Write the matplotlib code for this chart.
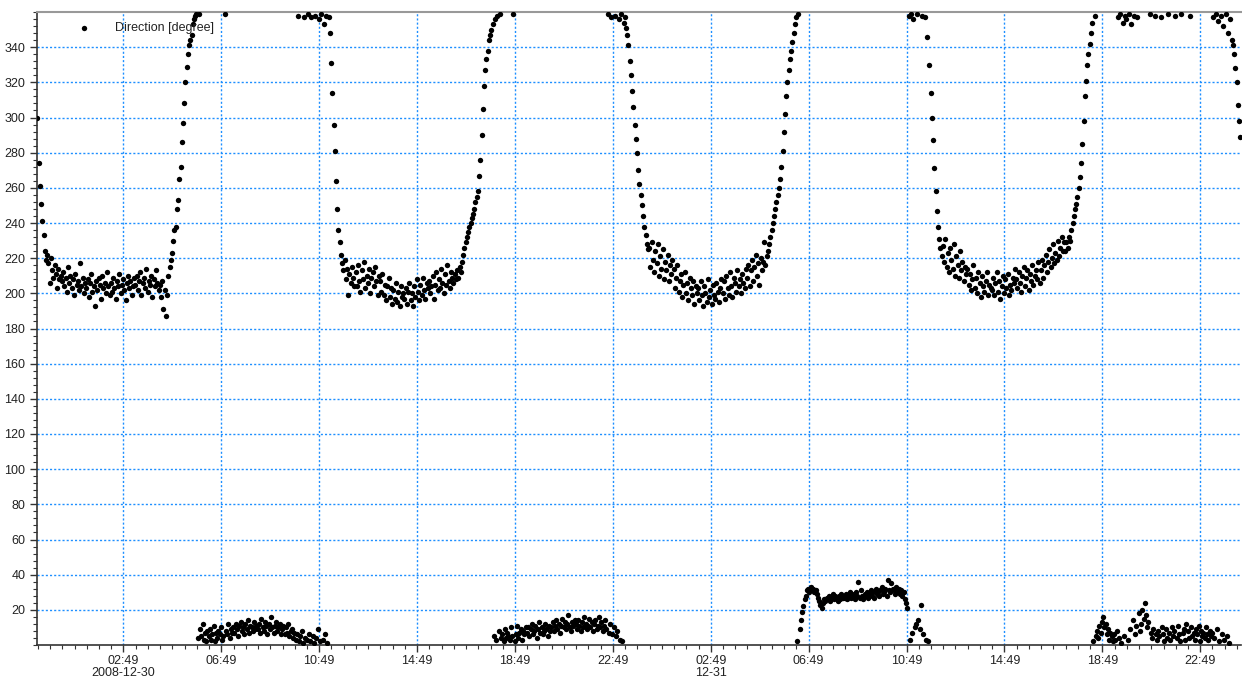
import matplotlib
matplotlib.use('Agg')
import matplotlib.pyplot as plt
import matplotlib.dates as mdates
from matplotlib.ticker import FixedLocator, FixedFormatter, MultipleLocator
import pandas as pd

plt.rcParams['font.family'] = ['Liberation Sans', 'DejaVu Sans']

# logger samples every 3 minutes, first one at 2008-12-29 23:18
start_time = '2008-12-29 23:18'
sample_step = '3min'

# one row = one hour (20 samples)
block_a = [
    300, 274, 261, 251, 241, 233, 224, 219, 222, 217, 206, 220, 213, 209, 216, 211, 203, 214, 208, 210,
    207, 212, 204, 209, 201, 215, 206, 210, 203, 208, 199, 211, 205, 207, 202, 217, 204, 209, 200, 206,
    203, 208, 198, 206, 211, 201, 204, 193, 207, 202, 209, 205, 197, 210, 203, 206, 200, 212, 204, 199,
    206, 201, 209, 203, 197, 207, 204, 211, 200, 205, 208, 202, 196, 206, 210, 203, 207, 199, 204, 209,
    205, 210, 202, 207, 212, 199, 206, 209, 203, 214, 201, 207, 205, 210, 198, 208, 204, 213, 206, 202,
    205, 198, 207, 191, 202, 187, 199, 210, 215, 219, 223, 230, 236, 238, 248, 253, 265, 272, 286, 297,
    308, 320, 329, 336, 341, 344, 347, 353, 356, 358, 359, 4, 359, 9, 5, 12, 3, 7, 2, 8,
    5, 9, 3, 6, 11, 2, 7, 4, 8, 6, 10, 3, 5, 359, 8, 6, 12, 4, 9, 7,
    10, 7, 12, 9, 5, 11, 13, 8, 10, 6, 12, 9, 14, 7, 11, 10, 8, 13, 9, 11,
    9, 12, 7, 15, 10, 8, 13, 11, 6, 12, 9, 16, 10, 7, 11, 13, 8, 10, 12, 6,
    9, 11, 6, 10, 7, 12, 5, 8, 9, 4, 7, 3, 6, 358, 2, 5, 8, 1, 357, 4,
    3, 359, 6, 2, 357, 5, 1, 358, 4, 9, 356, 2, 359, 3, 353, 6, 358, 1, 357, 348,
]
block_b = [
    331, 314, 296, 281, 264, 248, 236, 229, 222, 217, 213, 219, 208, 214, 199, 211, 206, 215, 209, 204,
    212, 204, 216, 207, 201, 213, 208, 218, 203, 210, 206, 214, 200, 209, 212, 204, 215, 207, 199, 210,
    207, 201, 211, 199, 205, 196, 204, 209, 198, 203, 194, 202, 197, 206, 195, 201, 193, 204, 198, 200,
    197, 203, 194, 201, 206, 196, 200, 193, 204, 198, 208, 201, 196, 205, 199, 209, 202, 197, 206, 203,
    207, 200, 204, 210, 197, 205, 212, 202, 208, 203, 214, 206, 200, 211, 205, 216, 207, 203, 212, 209,
    206, 211, 208, 213, 209, 215, 212, 218, 222, 226, 229, 232, 235, 238, 240, 243, 245, 248, 252, 255,
    258, 267, 276, 290, 305, 318, 327, 333, 338, 344, 347, 350, 353, 5, 356, 3, 358, 8, 359, 4,
    6, 2, 9, 4, 7, 5, 3, 10, 5, 359, 2, 6, 11, 4, 7, 9, 3, 8, 6, 10,
    7, 10, 5, 9, 12, 6, 8, 11, 4, 9, 13, 7, 10, 6, 8, 12, 9, 5, 11, 8,
    10, 13, 8, 11, 14, 9, 12, 7, 11, 15, 10, 13, 9, 12, 17, 10, 8, 13, 11, 14,
    12, 9, 14, 11, 8, 13, 10, 16, 12, 9, 11, 15, 10, 13, 8, 12, 14, 9, 11, 16,
    10, 13, 8, 11, 14, 9, 359, 7, 12, 357, 6, 10, 358, 5, 8, 356, 3, 359, 2, 354,
]
block_c = [
    357, 351, 347, 341, 332, 324, 315, 306, 296, 288, 280, 270, 262, 256, 250, 244, 238, 233, 228, 225,
    226, 215, 229, 219, 212, 224, 217, 228, 210, 221, 214, 225, 208, 218, 213, 222, 207, 216, 211, 219,
    214, 203, 209, 216, 201, 207, 211, 198, 205, 212, 200, 206, 196, 209, 203, 199, 207, 194, 204, 200,
    203, 196, 207, 199, 193, 204, 200, 195, 208, 198, 202, 194, 205, 199, 197, 206, 201, 195, 203, 208,
    200, 207, 197, 210, 203, 199, 212, 204, 198, 209, 206, 201, 213, 204, 208, 200, 211, 206, 203, 214,
    209, 216, 204, 213, 219, 207, 215, 222, 210, 217, 205, 220, 213, 218, 229, 216, 221, 224, 228, 232,
    236, 240, 244, 248, 252, 256, 260, 265, 272, 281, 292, 302, 312, 320, 327, 333, 338, 343, 348, 353,
    357, 2, 359, 9, 14, 19, 22, 26, 28, 31, 32, 30, 33, 31, 32, 30, 31, 29, 27, 25,
    23, 21, 24, 26, 25, 27, 26, 28, 25, 27, 29, 26, 28, 27, 25, 28, 26, 29, 27, 28,
    27, 29, 26, 28, 30, 27, 29, 28, 26, 30, 28, 36, 27, 31, 28, 26, 29, 28, 30, 27,
    29, 31, 28, 30, 27, 32, 29, 30, 28, 31, 33, 29, 30, 32, 28, 37, 31, 30, 35, 32,
    31, 29, 33, 30, 32, 29, 31, 28, 30, 26, 24, 21, 358, 3, 359, 7, 356, 10, 12, 359,
]
block_d = [
    14, 9, 23, 358, 6, 357, 3, 346, 2, 330, 314, 300, 287, 271, 258, 247, 238, 231, 226, 221,
    227, 218, 231, 215, 223, 212, 226, 219, 214, 228, 210, 221, 216, 209, 224, 213, 218, 207, 215, 211,
    214, 205, 211, 202, 208, 216, 203, 209, 200, 212, 206, 198, 210, 204, 201, 207, 212, 199, 205, 203,
    202, 209, 199, 206, 212, 201, 207, 197, 204, 210, 200, 208, 203, 211, 199, 205, 202, 209, 206, 214,
    208, 203, 212, 206, 201, 210, 215, 204, 209, 213, 202, 211, 207, 216, 205, 210, 213, 208, 218, 206,
    213, 219, 209, 216, 222, 212, 218, 225, 215, 220, 228, 217, 223, 219, 230, 221, 226, 232, 224, 229,
    224, 229, 226, 232, 230, 236, 240, 244, 248, 251, 255, 260, 266, 274, 285, 298, 312, 321, 330, 336,
    342, 348, 354, 2, 358, 5, 8, 4, 11, 7, 13, 16, 10, 12, 6, 9, 3, 7, 5, 2,
    6, 3, 8, 357, 4, 359, 1, 354, 5, 358, 356, 3, 359, 9, 353, 14, 358, 6, 11, 357,
    18, 8, 12, 20, 15, 24, 17, 10, 13, 359, 7, 4, 9, 358, 6, 3, 8, 5, 357, 10,
    6, 2, 9, 4, 359, 7, 3, 10, 5, 8, 358, 4, 11, 6, 2, 359, 7, 9, 3, 12,
    8, 4, 358, 10, 5, 7, 3, 9, 6, 11, 2, 8, 5, 7, 4, 10, 6, 3, 8, 5,
    7, 357, 4, 359, 9, 355, 2, 358, 6, 352, 3, 359, 5, 348, 1, 356, 344, 341, 336, 328,
    320, 307, 298, 289,
]

direction = block_a + block_b + block_c + block_d
times = pd.date_range(start_time, periods=len(direction), freq=sample_step)

# axis setup
x_start = pd.Timestamp('2008-12-29 23:17')
x_end = pd.Timestamp('2009-01-01 00:29')
major_times = pd.date_range('2008-12-30 02:49', periods=12, freq='4h')
major_labels = ['02:49\n2008-12-30', '06:49', '10:49', '14:49', '18:49', '22:49',
                '02:49\n12-31', '06:49', '10:49', '14:49', '18:49', '22:49']
minor_times = pd.date_range('2008-12-29 23:19', '2009-01-01 00:29', freq='30min')

fig = plt.figure(figsize=(12.42, 6.77), dpi=100)
ax = fig.add_axes([37 / 1242, 32 / 677, 1204 / 1242, 633 / 677])

ax.scatter(times, direction, s=15, color='black', linewidths=0, zorder=3,
           label='Direction [degree]')

ax.set_xlim(x_start, x_end)
ax.set_ylim(0, 360)

ax.xaxis.set_major_locator(FixedLocator(mdates.date2num(major_times)))
ax.xaxis.set_major_formatter(FixedFormatter(major_labels))
ax.xaxis.set_minor_locator(FixedLocator(mdates.date2num(minor_times)))
ax.yaxis.set_major_locator(FixedLocator(list(range(20, 341, 20))))
ax.yaxis.set_minor_locator(MultipleLocator(4))

ax.grid(True, which='major', color='#1e8fff', linestyle=(0, (1.5, 1.5)), linewidth=1.0)

ax.tick_params(which='major', length=5, width=1, color='#333333', labelsize=9,
               labelcolor='#222222', direction='out')
ax.tick_params(which='minor', length=3, width=0.8, color='#333333', direction='out')
ax.tick_params(axis='x', pad=2)
for lbl in ax.get_xticklabels():
    lbl.set_linespacing(1.0)

for s in ['left', 'bottom']:
    ax.spines[s].set_color('#333333')
    ax.spines[s].set_linewidth(1.2)
ax.spines['top'].set_color('#999999')
ax.spines['top'].set_linewidth(1.5)
ax.spines['right'].set_visible(False)

ax.legend(loc='upper left', bbox_to_anchor=(0.02, 1.0), frameon=False, fontsize=9,
          handletextpad=1.5, borderaxespad=0.4, labelcolor='#222222')

fig.savefig('out.png', dpi=100, facecolor='white')
